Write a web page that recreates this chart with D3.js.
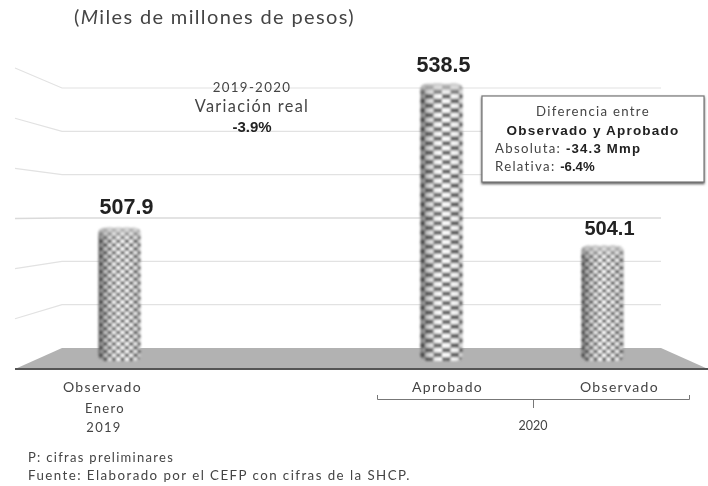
<!DOCTYPE html>
<html>
<head>
<meta charset="utf-8">
<script src="https://cdn.jsdelivr.net/npm/d3@7"></script>
<style>
  body { margin: 0; background: #fff; }
  text { font-family: "Lato", "DejaVu Sans", sans-serif; fill: #444; }
  .thin { font-weight: 400; letter-spacing: 1.3px; }
  .bold { font-family: "Liberation Sans", sans-serif; font-weight: 700; fill: #222; letter-spacing: 0; }
</style>
</head>
<body>
<div id="chart"></div>
<script>
// data
var categories = ["Enero 2019", "", "Aprobado 2020", "Observado 2020"];
var values = [507.9, null, 538.5, 504.1];
var valueLabels = ["507.9", "", "538.5", "504.1"];
var gridValues = [490, 500, 510, 520, 530, 540];
var tickLabels = ["Observado", "", "Aprobado", "Observado"];

var width = 708, height = 486;

var svg = d3.select("#chart").append("svg")
  .attr("width", width)
  .attr("height", height);

var defs = svg.append("defs");

// the source is a bit soft, it was scaled up
var soft = defs.append("filter").attr("id", "soft");
soft.append("feGaussianBlur").attr("stdDeviation", 0.5);
var softer = defs.append("filter").attr("id", "softer");
softer.append("feGaussianBlur").attr("stdDeviation", 0.8);

var shadow = defs.append("filter").attr("id", "boxShadow")
  .attr("x", "-5%").attr("y", "-5%").attr("width", "110%").attr("height", "115%");
shadow.append("feDropShadow").attr("dx", 0).attr("dy", 1.5).attr("stdDeviation", 1.2).attr("flood-color", "#555");

// checker tiles, one for each bar
var tiles = [[8.6, 7.6], null, [17, 9.4], [8.6, 7.6]];
tiles.forEach(function(t, i) {
  if (!t) return;
  var p = defs.append("pattern").attr("id", "checks" + i)
    .attr("patternUnits", "userSpaceOnUse")
    .attr("width", t[0]).attr("height", t[1]);
  p.append("rect").attr("width", t[0]).attr("height", t[1]).attr("fill", "#fff");
  p.append("rect").attr("width", t[0] / 2).attr("height", t[1] / 2).attr("fill", "#606060");
  p.append("rect").attr("x", t[0] / 2).attr("y", t[1] / 2).attr("width", t[0] / 2).attr("height", t[1] / 2).attr("fill", "#606060");
});

// cylinder look
var shade = defs.append("linearGradient").attr("id", "shade");
[[0, "#333", 0.7], [0.2, "#555", 0.25], [0.5, "#fff", 0.1], [0.82, "#888", 0.08], [1, "#444", 0.3]].forEach(function(s) {
  shade.append("stop").attr("offset", s[0]).attr("stop-color", s[1]).attr("stop-opacity", s[2]);
});
var capShade = defs.append("linearGradient").attr("id", "cap").attr("x1", 0).attr("x2", 0).attr("y1", 0).attr("y2", 1);
capShade.append("stop").attr("offset", 0).attr("stop-color", "#ccc").attr("stop-opacity", 0.9);
capShade.append("stop").attr("offset", 1).attr("stop-color", "#ccc").attr("stop-opacity", 0);

var chart = svg.append("g").attr("filter", "url(#soft)");

// scales, gridlines use the back wall and the side wall of the 3d box
var x = d3.scaleBand().domain(categories).range([39, 683]).paddingInner(0.74).paddingOuter(0.37);
var y = d3.scaleLinear().domain([479.6, 540]).range([361, 76.7]);
var yBack = d3.scaleLinear().domain([480, 540]).range([348, 88]);
var ySide = d3.scaleLinear().domain([480, 540]).range([369, 68]);

var wallLeft = 15, backLeft = 62, backRight = 661, floorRight = 708;

var gridLine = d3.line();
chart.selectAll(".grid")
  .data(gridValues)
  .enter()
  .append("path")
    .attr("class", "grid")
    .attr("fill", "none")
    .attr("stroke", function(d) { return d == 510 ? "#dadada" : "#e2e2e2"; })
    .attr("stroke-width", function(d) { return d == 510 ? 1.6 : 1.1; })
    .attr("d", function(d) {
      return gridLine([[wallLeft, ySide(d)], [backLeft, yBack(d)], [backRight, yBack(d)]]);
    });

// floor
chart.append("path")
  .attr("fill", "#b2b2b2")
  .attr("d", gridLine([[wallLeft, ySide(480)], [backLeft, yBack(480)], [backRight, yBack(480)], [floorRight, ySide(480)]]) + "Z");
chart.append("line")
  .attr("x1", wallLeft).attr("x2", floorRight)
  .attr("y1", ySide(480)).attr("y2", ySide(480))
  .attr("stroke", "#555").attr("stroke-width", 2);

// bars
var barData = categories.map(function(c, i) { return {cat: c, value: values[i], i: i}; })
  .filter(function(d) { return d.value != null; });

var bars = chart.selectAll(".bar").data(barData).enter().append("g")
  .attr("class", "bar")
  .attr("filter", "url(#softer)");

function barRect(sel) {
  return sel
    .attr("x", function(d) { return x(d.cat); })
    .attr("y", function(d) { return y(d.value); })
    .attr("width", x.bandwidth())
    .attr("height", function(d) { return y.range()[0] - y(d.value); })
    .attr("rx", 7).attr("ry", 5);
}
barRect(bars.append("rect")).attr("fill", function(d) { return "url(#checks" + d.i + ")"; });
barRect(bars.append("rect")).attr("fill", "url(#shade)");
bars.append("rect")
  .attr("x", function(d) { return x(d.cat); })
  .attr("y", function(d) { return y(d.value); })
  .attr("width", x.bandwidth())
  .attr("height", 12)
  .attr("rx", 7).attr("ry", 5)
  .attr("fill", "url(#cap)");

// value labels
var labelNudge = [7, 0, 2, 7];
var labelGap = [14, 0, 12, 11];
chart.selectAll(".val")
  .data(barData)
  .enter()
  .append("text")
    .attr("class", "val bold")
    .attr("text-anchor", "middle")
    .attr("font-size", function(d) { return d.i == 3 ? 20 : 21.5; })
    .attr("x", function(d) { return x(d.cat) + x.bandwidth() / 2 + labelNudge[d.i]; })
    .attr("y", function(d) { return y(d.value) - labelGap[d.i]; })
    .text(function(d) { return valueLabels[d.i]; });

// category labels are not centred under the bars in the source
var tickNudge = [-17, 0, 6, 17];
chart.selectAll(".tick-label")
  .data(categories)
  .enter()
  .append("text")
    .attr("class", "tick-label thin")
    .attr("text-anchor", "middle")
    .attr("font-size", 14)
    .attr("x", function(d, i) { return x(d) + x.bandwidth() / 2 + tickNudge[i]; })
    .attr("y", 392)
    .text(function(d, i) { return tickLabels[i]; });

function label(txt, px, py, size, cls, anchor) {
  return chart.append("text")
    .attr("class", cls)
    .attr("x", px).attr("y", py)
    .attr("font-size", size)
    .attr("text-anchor", anchor || "middle")
    .text(txt);
}

label("Enero", 105, 413, 13, "thin");
label("2019", 104, 432, 13, "thin");

// 2020 bracket
chart.append("path")
  .attr("fill", "none").attr("stroke", "#777").attr("stroke-width", 1)
  .attr("d", "M377.5,395V399.5H689.5V395M533.5,399.5V408");
label("2020", 533, 430, 12.5, "thin").style("letter-spacing", "0");

// title
var title = label("", 74, 24, 20, "thin", "start").style("letter-spacing", "1.35px");
title.append("tspan").text("(");
title.append("tspan").attr("font-style", "italic").text("M");
title.append("tspan").text("iles de millones de pesos)");

// variation note
label("2019-2020", 252, 92, 13.3, "thin");
label("Variación real", 252, 112, 16.3, "thin");
label("-3.9%", 252, 132, 15, "bold");

// difference box
chart.append("rect")
  .attr("x", 482).attr("y", 96).attr("width", 222).attr("height", 86)
  .attr("fill", "#fff").attr("stroke", "#777").attr("stroke-width", 1.2)
  .attr("filter", "url(#boxShadow)");
label("Diferencia entre", 593, 116, 13.2, "thin");
label("Observado y Aprobado", 593, 135, 13.5, "bold").style("letter-spacing", "1.2px");

var abs = label("Absoluta: ", 495, 153, 13.2, "thin", "start");
abs.append("tspan").attr("class", "bold").style("letter-spacing", "1.2px").text("-34.3 Mmp");
var rel = label("Relativa: ", 495, 171, 13.2, "thin", "start");
rel.append("tspan").attr("class", "bold").text("-6.4%");

// notes
label("P: cifras preliminares", 28, 462, 13, "thin", "start");
label("Fuente: Elaborado por el CEFP con cifras de la SHCP.", 28, 480, 13.3, "thin", "start").style("letter-spacing", "1.45px");
</script>
</body>
</html>
